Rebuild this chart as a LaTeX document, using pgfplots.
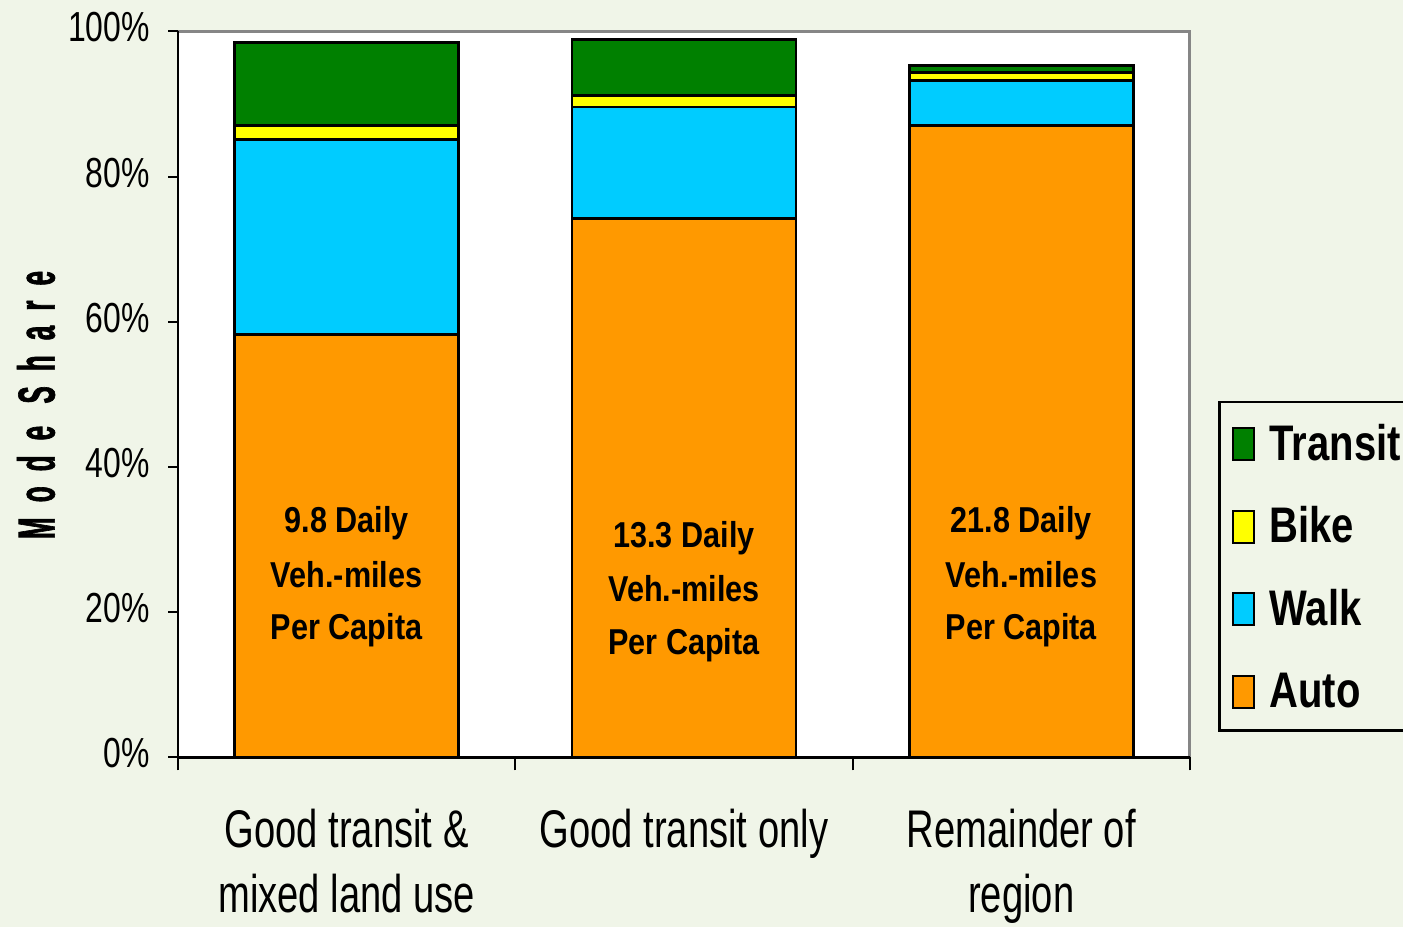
\documentclass[border=0pt]{standalone}
\usepackage{pgfplots}
\pgfplotsset{compat=1.18}
\usepackage{pgfplotstable}
\usepackage{fontspec}
\setmainfont{Liberation Sans}
\newfontfamily\tickfont[FakeStretch=0.76]{Liberation Sans}
\newfontfamily\catfont[FakeStretch=0.72]{Liberation Sans}
\newfontfamily\legfont[FakeStretch=0.8]{Liberation Sans}
\newfontfamily\barfont[FakeStretch=0.85]{Liberation Sans}
\newfontfamily\modefont[FakeStretch=0.5,LetterSpace=29,FakeBold=1.2]{Liberation Sans}

\definecolor{bgc}{RGB}{240,245,232}
\definecolor{cauto}{RGB}{255,153,0}
\definecolor{cwalk}{RGB}{0,204,255}
\definecolor{cbike}{RGB}{255,255,0}
\definecolor{ctransit}{RGB}{0,128,0}
\definecolor{framegray}{RGB}{134,134,134}

\tikzset{vmt/.style={font=\barfont\bfseries\fontsize{36bp}{36bp}\selectfont, anchor=base, inner sep=0pt, text=black}}

% mode share (%) by area type
\pgfplotstableread{
pos  auto  walk  bike  transit
0    58.2  26.9  2.0   11.4
1    74.2  15.4  1.6   7.7
2    87.1  6.2   1.1   0.9
}\modeshare

\begin{document}
\begin{tikzpicture}
\fill[bgc] (0bp,0bp) rectangle (1403bp,927bp);
\useasboundingbox (0bp,0bp) rectangle (1403bp,927bp);
\clip (0bp,0bp) rectangle (1403bp,927bp);
\begin{axis}[
  at={(178bp,169.7bp)}, anchor=south west,
  scale only axis, width=1012bp, height=725.8bp,
  axis background/.style={fill=white},
  axis lines=left, axis line style={-, black, line width=2.6bp},
  ybar stacked, bar width=0.664,
  xmin=-0.5, xmax=2.5, ymin=0, ymax=100, enlargelimits=false,
  xtick={0,1,2},
  xticklabels={Good transit \&\\mixed land use, Good transit only, Remainder of\\region},
  extra x ticks={-0.5,0.5,1.5,2.5},
  extra x tick labels={},
  extra x tick style={major tick length=13bp, xtick style={draw=black, line width=2bp}},
  ytick={0,20,40,60,80,100},
  yticklabels={0\%,20\%,40\%,60\%,80\%,100\%},
  tick align=outside,
  major tick length=10bp,
  tick style={black, line width=2bp},
  xtick style={draw=none},
  xticklabel style={font=\catfont\fontsize{53bp}{65bp}\selectfont, align=center, anchor=north, inner sep=0pt, yshift=-42bp},
  yticklabel style={font=\tickfont\fontsize{42bp}{42bp}\selectfont, anchor=east, inner sep=0pt, xshift=-18bp, yshift=4bp},
  legend image code/.code={
    \draw[#1, line width=2bp, draw=black] (0bp,-18bp) rectangle (21bp,14bp);
    \path (35bp,0bp);
  },
  reverse legend,
  legend cell align=left,
  legend style={
    at={(1.0277,0.0349)}, anchor=south west,
    draw=black, line width=2.5bp, fill=bgc,
    inner xsep=13bp, inner ysep=22bp,
    row sep=45.5bp,
    font=\legfont\bfseries\fontsize{50bp}{50bp}\selectfont,
    nodes={inner sep=0pt, text height=36bp, text depth=0bp},
  },
  every axis plot/.append style={draw=black, line width=2.8bp},
  after end axis/.code={
    \draw[framegray, line width=3bp] (rel axis cs:0,1) -- (rel axis cs:1,1) -- (rel axis cs:1,0);
    \draw[black, line width=2.6bp] (rel axis cs:0,1) -- (rel axis cs:0,0) -- (rel axis cs:1,0);
    % VMT annotations inside the auto segments
    \node[vmt] at (axis cs:0,31.04) {9.8 Daily};
    \node[vmt] at (axis cs:0,23.46) {Veh.-miles};
    \node[vmt] at (axis cs:0,16.17) {Per Capita};
    \node[vmt] at (axis cs:1,28.97) {13.3 Daily};
    \node[vmt] at (axis cs:1,21.40) {Veh.-miles};
    \node[vmt] at (axis cs:1,14.10) {Per Capita};
    \node[vmt] at (axis cs:2,31.04) {21.8 Daily};
    \node[vmt] at (axis cs:2,23.46) {Veh.-miles};
    \node[vmt] at (axis cs:2,16.17) {Per Capita};
  },
]
\addplot[fill=cauto] table[x=pos, y=auto] {\modeshare};
\addlegendentry{Auto}
\addplot[fill=cwalk] table[x=pos, y=walk] {\modeshare};
\addlegendentry{Walk}
\addplot[fill=cbike] table[x=pos, y=bike] {\modeshare};
\addlegendentry{Bike}
\addplot[fill=ctransit] table[x=pos, y=transit] {\modeshare};
\addlegendentry{Transit}
\end{axis}
\node[rotate=90, inner sep=0pt, font=\modefont\bfseries\fontsize{52bp}{52bp}\selectfont] at (36bp,522bp) {Mode Share};
\end{tikzpicture}
\end{document}
